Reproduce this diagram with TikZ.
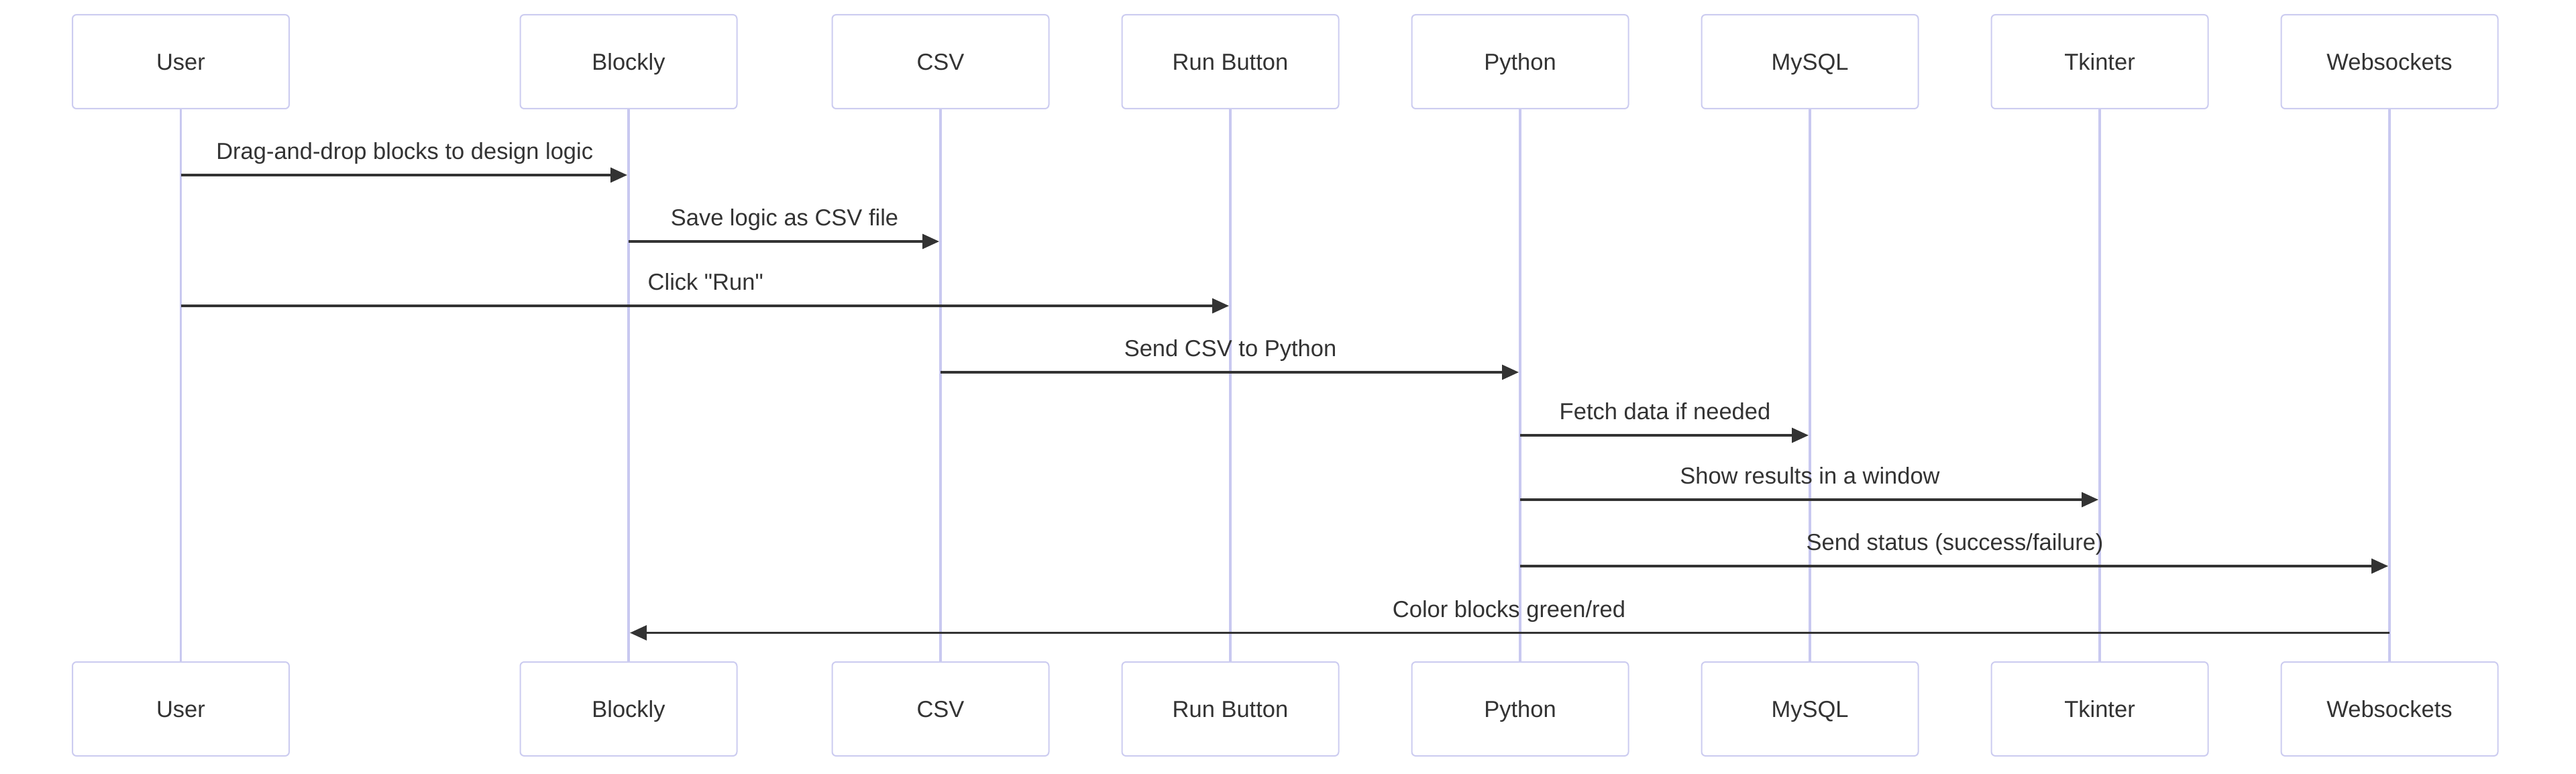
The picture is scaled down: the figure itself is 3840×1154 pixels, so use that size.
\documentclass[tikz,border=0pt]{standalone}
\usepackage{fontspec}
\setmainfont{Liberation Sans}[Ligatures=TeXOff]
\usetikzlibrary{arrows.meta}
\definecolor{txt}{HTML}{333333}
\definecolor{actorborder}{HTML}{CCCCF0}
\definecolor{lifeln}{HTML}{C8C8F0}
\tikzset{
  actor/.style={draw=actorborder, line width=1pt, fill=white, rounded corners=3pt,
    minimum width=161.5pt, minimum height=70pt, inner sep=0pt,
    text height=12.35pt, text depth=0pt, text=txt, font=\fontsize{17.25pt}{20pt}\selectfont},
  lifeline/.style={draw=lifeln, line width=1.8pt},
  msg/.style={draw=txt, line width=1.65pt, shorten >=1pt,
    -{Triangle[length=12.5pt, width=11pt]}},
  msglabel/.style={anchor=base, text=txt, inner sep=0pt, font=\fontsize{17.25pt}{20pt}\selectfont},
}
\begin{document}
\begin{tikzpicture}[x=0.5pt, y=-0.5pt]
\useasboundingbox (0,0) rectangle (3840,1154);
% lifelines first (behind boxes)
\foreach \n/\x in {u/269.5, b/937, c/1402, r/1834, p/2266, m/2698, t/3130, w/3562}{
  \coordinate (\n top) at (\x,162);
  \coordinate (\n bot) at (\x,987);
}
\foreach \n in {u,b,c,r,p,m,t,w}{
  \draw[lifeline] (\n top) -- (\n bot);
}
% actors top
\node[actor] (uT) at (269.5,92) {User};
\node[actor] (bT) at (937,92) {Blockly};
\node[actor] (cT) at (1402,92) {CSV};
\node[actor] (rT) at (1834,92) {Run Button};
\node[actor] (pT) at (2266,92) {Python};
\node[actor] (mT) at (2698,92) {MySQL};
\node[actor] (tT) at (3130,92) {Tkinter};
\node[actor] (wT) at (3562,92) {Websockets};
% actors bottom
\node[actor] (uB) at (269.5,1057) {User};
\node[actor] (bB) at (937,1057) {Blockly};
\node[actor] (cB) at (1402,1057) {CSV};
\node[actor] (rB) at (1834,1057) {Run Button};
\node[actor] (pB) at (2266,1057) {Python};
\node[actor] (mB) at (2698,1057) {MySQL};
\node[actor] (tB) at (3130,1057) {Tkinter};
\node[actor] (wB) at (3562,1057) {Websockets};
% message levels
\coordinate (y1) at (0,261);
\coordinate (y2) at (0,360);
\coordinate (y3) at (0,456);
\coordinate (y4) at (0,555);
\coordinate (y5) at (0,649);
\coordinate (y6) at (0,745);
\coordinate (y7) at (0,844);
\coordinate (y8) at (0,943.5);
% messages
\draw[msg] (uT |- y1) -- (bT |- y1) node[midway, msglabel, yshift=11.75pt] (l1) {Drag-and-drop blocks to design logic};
\draw[msg] (bT |- y2) -- (cT |- y2) node[midway, msglabel, yshift=11.75pt] (l2) {Save logic as CSV file};
\draw[msg] (uT |- y3) -- (rT |- y3) node[midway, msglabel, yshift=11.75pt] (l3) {Click "Run"};
\draw[msg] (cT |- y4) -- (pT |- y4) node[midway, msglabel, yshift=11.75pt] (l4) {Send CSV to Python};
\draw[msg] (pT |- y5) -- (mT |- y5) node[midway, msglabel, yshift=11.75pt] (l5) {Fetch data if needed};
\draw[msg] (pT |- y6) -- (tT |- y6) node[midway, msglabel, yshift=11.75pt] (l6) {Show results in a window};
\draw[msg] (pT |- y7) -- (wT |- y7) node[midway, msglabel, yshift=11.75pt] (l7) {Send status (success/failure)};
\draw[msg] (wT |- y8) -- (bT |- y8) node[midway, msglabel, yshift=11.75pt] (l8) {Color blocks green/red};
\end{tikzpicture}
\end{document}
